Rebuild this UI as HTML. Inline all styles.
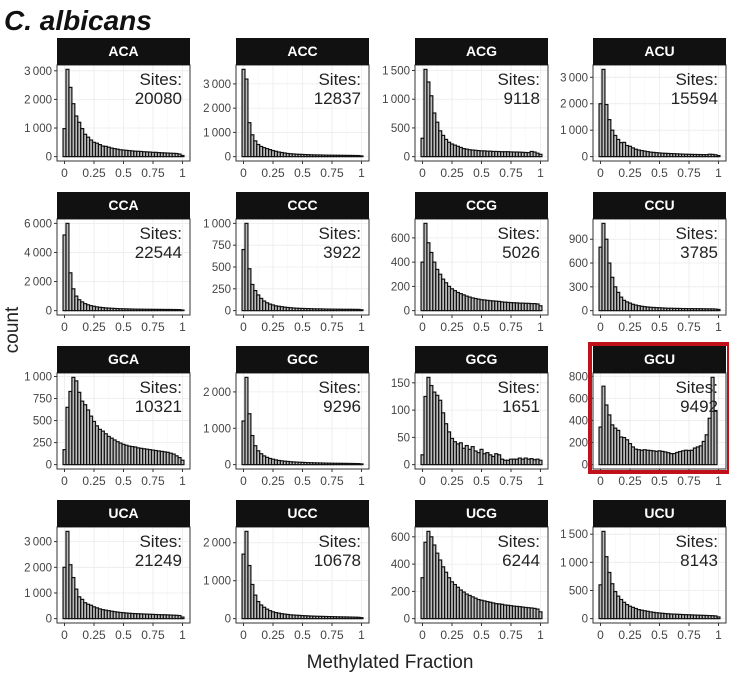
<!DOCTYPE html>
<html><head><meta charset="utf-8">
<style>
body{margin:0;background:#fff;}
svg{display:block;font-family:"Liberation Sans",sans-serif;}
</style></head>
<body>
<svg id="chart" width="729" height="675" viewBox="0 0 729 675" xmlns="http://www.w3.org/2000/svg">
<text x="4" y="30" font-size="28" font-weight="bold" font-style="italic" fill="#111">C. albicans</text>
<text transform="translate(18,330) rotate(-90)" text-anchor="middle" font-size="19" fill="#222">count</text>
<text x="390" y="668" text-anchor="middle" font-size="19" fill="#222">Methylated Fraction</text>
<g id="panels"></g>
</svg>
<script>
const labels = ["ACA","ACC","ACG","ACU","CCA","CCC","CCG","CCU","GCA","GCC","GCG","GCU","UCA","UCC","UCG","UCU"];
const sites = [20080,12837,9118,15594,22544,3922,5026,3785,10321,9296,1651,9492,21249,10678,6244,8143];
const yTicks = [
 [0,1000,2000,3000],[0,1000,2000,3000],[0,500,1000,1500],[0,1000,2000,3000],
 [0,2000,4000,6000],[0,250,500,750,1000],[0,200,400,600],[0,300,600,900],
 [0,250,500,750,1000],[0,1000,2000],[0,50,100,150],[0,200,400,600,800],
 [0,1000,2000,3000],[0,1000,2000],[0,200,400,600],[0,500,1000,1500]];
const xTicks = [0,0.25,0.5,0.75,1];
const xTickLabels = ["0","0.25","0.5","0.75","1"];
const ACA=[980,3050,2420,1850,1420,1200,980,780,680,580,500,470,420,370,360,330,300,280,260,240,230,220,210,200,190,185,180,170,165,160,150,150,140,135,130,125,120,115,110,90,40];
const ACC=[3600,3200,1400,900,650,500,420,370,330,290,250,220,190,170,150,130,120,110,100,95,90,85,80,75,72,70,68,65,62,60,58,56,55,54,52,50,50,48,46,44,30];
const ACG=[320,1520,1300,1060,760,600,450,370,300,250,220,200,180,160,140,130,120,115,110,105,100,100,95,95,90,90,88,85,85,85,82,80,80,78,75,72,70,90,80,60,40];
const ACU=[2000,3300,1970,1400,1000,800,650,530,540,420,390,330,280,250,230,210,190,170,160,150,140,130,125,120,115,110,105,100,95,90,88,85,82,80,78,76,75,90,85,70,40];
const CCA=[5200,6000,2600,1500,1000,750,600,480,400,340,300,260,230,210,190,175,160,150,140,130,125,120,115,110,105,100,98,95,92,90,88,86,84,82,80,80,78,76,74,70,40];
const CCC=[700,1000,480,300,230,180,140,110,90,75,65,55,50,45,40,36,33,30,28,26,25,24,23,22,21,20,20,19,18,18,17,17,16,16,15,15,15,15,14,14,10];
const CCG=[400,720,560,480,400,340,300,260,230,200,180,165,150,140,130,120,112,105,100,95,90,88,85,82,80,78,76,72,70,68,66,65,64,62,62,60,60,58,58,55,40];
const CCU=[800,1100,900,600,420,300,230,170,130,110,95,80,70,62,55,50,46,42,40,38,36,34,32,30,30,28,28,27,26,26,25,25,24,24,24,23,23,22,22,20,15];
const GCA=[170,650,830,990,950,820,720,680,620,550,490,440,400,380,350,320,300,280,260,245,230,220,210,205,200,190,185,180,175,170,165,160,155,150,145,140,130,120,100,80,50];
const GCC=[1200,2400,1400,800,520,380,300,240,200,170,150,130,115,105,95,88,80,75,70,66,62,58,55,52,50,48,46,44,42,40,38,37,36,35,34,33,32,31,30,28,20];
const GCG=[18,125,160,145,133,127,118,95,75,60,48,42,38,40,30,35,28,33,25,22,28,20,22,18,15,20,18,10,8,8,10,10,10,12,10,12,10,11,9,10,8];
const GCU=[340,710,540,450,360,330,310,250,245,225,190,160,140,135,130,135,130,128,125,120,125,120,115,108,100,100,110,118,125,130,128,130,150,160,170,210,270,420,790,490];
const UCA=[2000,3400,2100,1600,1150,850,750,620,560,520,460,420,380,350,330,310,290,270,255,240,230,220,210,200,195,190,185,180,175,170,165,160,155,150,150,145,140,135,130,120,60];
const UCC=[1700,2300,1400,900,620,450,360,300,250,210,180,160,145,130,120,110,100,95,90,85,80,76,72,68,65,62,60,58,56,54,52,50,48,46,45,44,42,40,38,35,25];
const UCG=[300,560,640,600,540,480,430,380,340,300,270,250,230,210,195,180,170,160,150,140,135,130,125,120,115,110,108,105,100,98,95,92,90,88,85,82,80,78,75,70,50];
const UCU=[600,1550,1100,820,620,480,400,340,290,250,220,200,180,160,150,140,130,120,112,105,100,95,90,86,82,80,78,75,72,70,68,66,64,62,60,58,56,54,52,48,30];
const series=[ACA,ACC,ACG,ACU,CCA,CCC,CCG,CCU,GCA,GCC,GCG,GCU,UCA,UCC,UCG,UCU];

const NS="http://www.w3.org/2000/svg";
const root=document.getElementById('panels');
const colX=[57,236,415,593], rowY=[38,192,346,500], PW=133, SH=27, PH=96;
const binW=0.025, xMin=-0.0125-0.05*1.025, xMax=1.0125+0.05*1.025;
function mk(tag,attrs,parent){const e=document.createElementNS(NS,tag);for(const k in attrs)e.setAttribute(k,attrs[k]);parent.appendChild(e);return e;}
function fmt(v){const s=String(v);return s.length>3?s.slice(0,s.length-3)+"\u2009"+s.slice(-3):s;}

series.forEach((vals,p)=>{
  const x0=colX[p%4], y0=rowY[Math.floor(p/4)], top=y0+SH, bot=top+PH;
  const g=mk('g',{},root);
  
  
  const dMax=Math.max(...vals);
  const yLo=-0.05*dMax, yHi=dMax*1.05;
  const X=v=>x0+(v-xMin)/(xMax-xMin)*PW;
  const Y=v=>bot-(v-yLo)/(yHi-yLo)*PH;
  const bg=mk('rect',{x:x0,y:top,width:PW,height:PH,fill:'#fff'},g);
  
  
  xTicks.forEach(t=>{mk('line',{x1:X(t),x2:X(t),y1:top,y2:bot,stroke:'#ebebeb','stroke-width':0.8},g);});
  xTicks.slice(0,-1).forEach((t,i)=>{const m=(t+xTicks[i+1])/2;mk('line',{x1:X(m),x2:X(m),y1:top,y2:bot,stroke:'#f4f4f4','stroke-width':0.5},g);});
  yTicks[p].forEach(t=>{if(Y(t)>=top)mk('line',{x1:x0,x2:x0+PW,y1:Y(t),y2:Y(t),stroke:'#ebebeb','stroke-width':0.8},g);});
  vals.forEach((v,i)=>{
    const c=i*binW;
    const r=mk('rect',{x:X(c-binW/2),y:Y(v),width:X(c+binW/2)-X(c-binW/2),height:Y(0)-Y(v),fill:'#bdbdbd',stroke:'#111','stroke-width':1.2},g);
    
    
  });
  mk('rect',{x:x0,y:top,width:PW,height:PH,fill:'none',stroke:'#333','stroke-width':1},g);
  const st=mk('rect',{x:x0,y:y0,width:PW,height:SH,fill:'#111'},g);
  
  
  const tt=mk('text',{x:x0+PW/2,y:y0+18,'text-anchor':'middle','font-size':14,'font-weight':'bold',fill:'#fff'},g);
  tt.textContent=labels[p];
  
  
  yTicks[p].forEach(t=>{
    const y=Y(t); if(y<top-1)return;
    mk('line',{x1:x0-3,x2:x0,y1:y,y2:y,stroke:'#333'},g);
    const l=mk('text',{x:x0-5,y:y+4,'text-anchor':'end','font-size':11.5,fill:'#444'},g);
    l.textContent=fmt(t);
    
    
  });
  xTicks.forEach((t,i)=>{
    mk('line',{x1:X(t),x2:X(t),y1:bot,y2:bot+3,stroke:'#333'},g);
    const l=mk('text',{x:X(t),y:bot+16,'text-anchor':'middle','font-size':12,fill:'#444'},g);
    l.textContent=xTickLabels[i];
    
    
  });
  const s1=mk('text',{x:x0+PW-8,y:top+20,'text-anchor':'end','font-size':17,fill:'#222'},g);
  s1.textContent='Sites:';
  
  
  const s2=mk('text',{x:x0+PW-8,y:top+39,'text-anchor':'end','font-size':17,fill:'#222'},g);
  s2.textContent=String(sites[p]);
  
  
  if(labels[p]==='GCU'){
    const h=mk('rect',{x:x0-3,y:y0-2,width:PW+6,height:SH+PH+5,fill:'none',stroke:'#c0101a','stroke-width':4},g);
    
    
  }
});
</script>
</body></html>
